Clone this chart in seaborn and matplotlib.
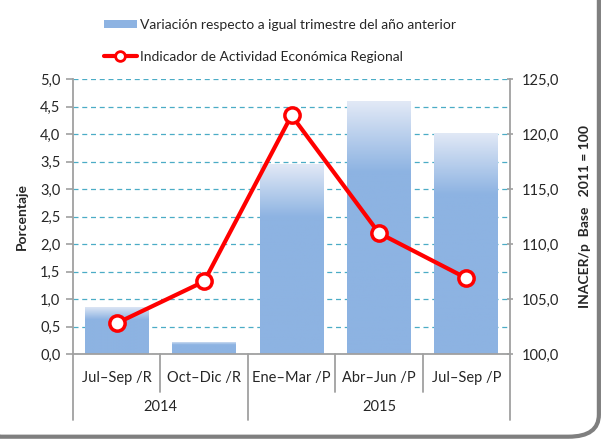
import matplotlib
matplotlib.use('Agg')
import matplotlib.pyplot as plt
import numpy as np
import seaborn as sns
from matplotlib.colors import LinearSegmentedColormap
from matplotlib.lines import Line2D
from matplotlib.patches import Patch, FancyBboxPatch

# Data
quarters = ['Jul–Sep /R', 'Oct–Dic /R', 'Ene–Mar /P', 'Abr–Jun /P', 'Jul–Sep /P']
years = ['2014', '2015']
quarters_per_year = [2, 3]
variation = [0.86, 0.22, 3.45, 4.60, 4.02]
inacer = [102.8, 106.6, 121.7, 111.0, 106.9]

bar_label = 'Variación respecto a igual trimestre del año anterior'
line_label = 'Indicador de Actividad Económica Regional'

bar_color = '#8db3e2'
line_color = '#ff0000'
grid_color = '#4bacc6'
axis_color = '#a0a0a0'
text_color = '#262626'

sns.set_style('white')
plt.rcParams['font.family'] = ['Lato', 'DejaVu Sans']
plt.rcParams['font.size'] = 10

fig = plt.figure(figsize=(6.08, 4.42), dpi=100)
ax = fig.add_axes([0.12, 0.199, 0.719, 0.622])
ax_h_px = 0.622 * 442

sns.barplot(x=quarters, y=variation, color=bar_color, width=0.73, ax=ax,
            saturation=1, zorder=2)

# gradient fill on bars: pale at the top, solid blue from about a quarter down
cmap = LinearSegmentedColormap.from_list('bar', ['#e2e9f6', bar_color])
for p in ax.patches:
    x0, y0 = p.get_x(), p.get_y()
    w, h = p.get_width(), p.get_height()
    t = np.linspace(0, 1, 256)
    grad = np.clip(t / 0.28, 0, 1)[:, None]
    im = ax.imshow(grad, cmap=cmap, aspect='auto', extent=[x0, x0 + w, y0, y0 + h],
                   origin='upper', zorder=2)
    im.set_clip_path(p)
    p.set_facecolor('none')
    p.set_edgecolor('none')

ax.set_xlim(-0.5, len(quarters) - 0.5)
ax.set_ylim(0, 5)
ax.set_yticks(np.arange(0, 5.01, 0.5))
ax.set_yticklabels([f'{v:.1f}'.replace('.', ',') for v in np.arange(0, 5.01, 0.5)])
ax.yaxis.grid(True, linestyle=(0, (4, 3)), color=grid_color, lw=0.9)
ax.set_axisbelow(True)
ax.set_ylabel('Porcentaje', fontweight='bold', fontsize=10, labelpad=9)
ax.set_xlabel('')

ax2 = ax.twinx()
sns.lineplot(x=np.arange(len(quarters)), y=inacer, color=line_color, lw=3, ax=ax2,
             marker='o', markersize=11, markerfacecolor='white',
             markeredgecolor=line_color, markeredgewidth=2.5, zorder=5)
ax2.set_ylim(100, 125)
ax2.set_yticks(np.arange(100, 125.1, 5))
ax2.set_yticklabels([f'{v:.1f}'.replace('.', ',') for v in np.arange(100, 125.1, 5)])
ax2.set_ylabel('INACER/p  Base   2011 = 100', fontweight='bold', fontsize=10, labelpad=14)
ax2.set_xlim(-0.5, len(quarters) - 0.5)

for a in (ax, ax2):
    for s in a.spines.values():
        s.set_visible(False)
    a.tick_params(colors=axis_color, labelcolor=text_color, labelsize=10.5)
ax.spines['left'].set_visible(True)
ax.spines['bottom'].set_visible(True)
ax2.spines['right'].set_visible(True)
for s in (ax.spines['left'], ax.spines['bottom'], ax2.spines['right']):
    s.set_color(axis_color)
    s.set_linewidth(1.3)
ax.tick_params(axis='y', left=True, length=5, width=1.2, pad=4)
ax2.tick_params(axis='y', right=True, length=5, width=1.2, direction='inout', pad=6)

# two-level category axis
ax.set_xticks(range(len(quarters)))
ax.set_xticklabels(quarters)
ax.tick_params(axis='x', bottom=False, pad=9, labelsize=10.5)
trans = ax.get_xaxis_transform()
bounds = np.concatenate([[0], np.cumsum(quarters_per_year)]) - 0.5
for i in range(len(quarters) + 1):
    xb = i - 0.5
    yend = -66 / ax_h_px if xb in bounds else -38 / ax_h_px
    ax.plot([xb, xb], [0, yend], transform=trans, color=axis_color, lw=1.3,
            clip_on=False)
for yr, a0, a1 in zip(years, bounds[:-1], bounds[1:]):
    ax.text((a0 + a1) / 2, -53 / ax_h_px, yr, transform=trans, ha='center',
            va='center', fontsize=10.5, color=text_color)

# legend
handles = [Patch(facecolor=bar_color, edgecolor='none'),
           Line2D([], [], color=line_color, lw=3, marker='o', markersize=7,
                  markerfacecolor='white', markeredgecolor=line_color,
                  markeredgewidth=2)]
fig.legend(handles, [bar_label, line_label], loc='upper left',
           bbox_to_anchor=(0.15, 0.985), frameon=False, labelspacing=1.4,
           handlelength=2.4, handleheight=0.5, handletextpad=0.2, fontsize=10,
           labelcolor=text_color)

# rounded chart frame
frame = FancyBboxPatch((-0.05, 0.012), 1.035, 1.1, transform=fig.transFigure,
                       boxstyle='round,pad=0,rounding_size=0.05', facecolor='none',
                       edgecolor='#7f7f7f', lw=3, clip_on=False)
fig.patches.append(frame)

fig.savefig('out.png', dpi=100)
